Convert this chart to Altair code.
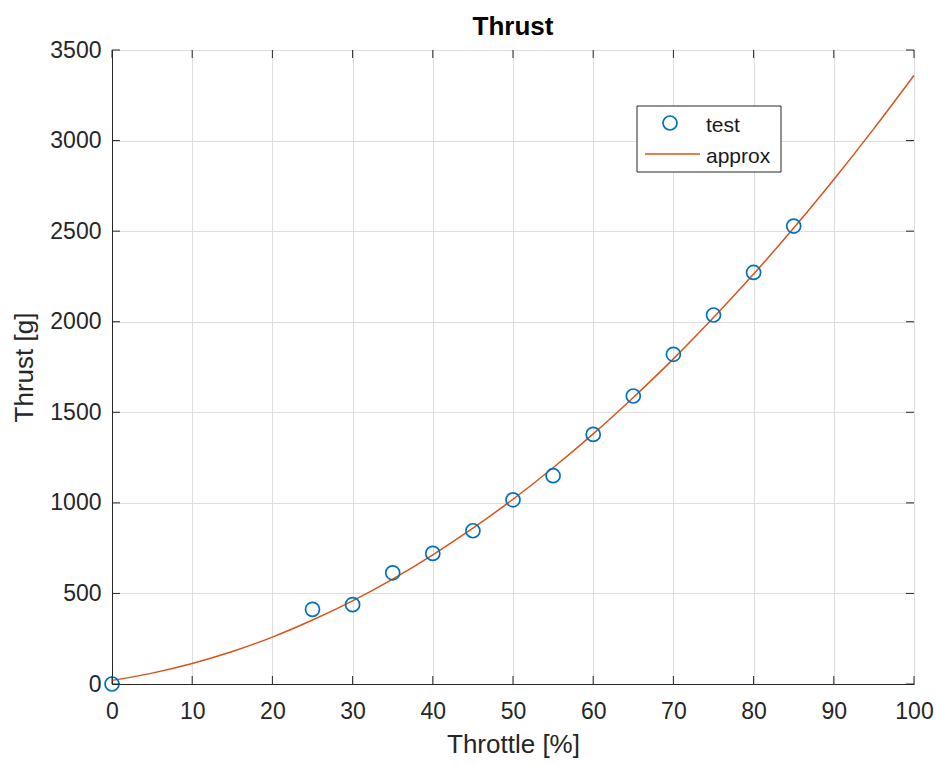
import altair as alt
import pandas as pd

# Measured thrust at each throttle setting
throttle_test = [0, 25, 30, 35, 40, 45, 50, 55, 60, 65, 70, 75, 80, 85]
thrust_test = [0, 412, 438, 614, 721, 846, 1017, 1150, 1378, 1590, 1820, 2037, 2272, 2528]

# Fitted approximation curve, sampled every 5 %
throttle_fit = [0, 5, 10, 15, 20, 25, 30, 35, 40, 45, 50, 55, 60, 65, 70, 75, 80, 85, 90, 95, 100]
thrust_fit = [20, 60, 113, 179, 259, 353, 459, 579, 713, 860, 1020, 1194, 1381, 1582,
              1795, 2023, 2263, 2517, 2785, 3066, 3360]

x_ticks = [0, 10, 20, 30, 40, 50, 60, 70, 80, 90, 100]
y_ticks = [0, 500, 1000, 1500, 2000, 2500, 3000, 3500]

W, H = 802, 634
BLUE = "#0072BD"
ORANGE = "#D95319"
INK = "#262626"
FONT = "Liberation Sans"

test_df = pd.DataFrame({"throttle": throttle_test, "thrust": thrust_test})
fit_df = pd.DataFrame({"throttle": throttle_fit, "thrust": thrust_fit})
xt_df = pd.DataFrame({"throttle": x_ticks})
yt_df = pd.DataFrame({"thrust": y_ticks})

xscale = alt.Scale(domain=[0, 100], nice=False, zero=False)
yscale = alt.Scale(domain=[0, 3500], nice=False)

x_axis = alt.Axis(values=x_ticks, title="Throttle [%]", ticks=False, grid=True, format="d",
                  labelPadding=16, titlePadding=8)
y_axis = alt.Axis(values=y_ticks, title="Thrust [g]", ticks=False, grid=True, format="d",
                  labelPadding=11, titlePadding=12)

line = alt.Chart(fit_df).mark_line(color=ORANGE, strokeWidth=1.5, interpolate="monotone").encode(
    x=alt.X("throttle:Q", scale=xscale, axis=x_axis),
    y=alt.Y("thrust:Q", scale=yscale, axis=y_axis),
)

points = alt.Chart(test_df).mark_point(
    shape="circle", filled=False, color=BLUE, size=196, strokeWidth=1.7, opacity=1
).encode(
    x=alt.X("throttle:Q", scale=xscale),
    y=alt.Y("thrust:Q", scale=yscale),
)

# Inward tick marks on all four sides of the box
tick_len = 8
bottom_ticks = alt.Chart(xt_df).mark_rule(color=INK, strokeWidth=1).encode(
    x=alt.X("throttle:Q", scale=xscale), y=alt.value(H), y2=alt.value(H - tick_len))
top_ticks = alt.Chart(xt_df).mark_rule(color=INK, strokeWidth=1).encode(
    x=alt.X("throttle:Q", scale=xscale), y=alt.value(0), y2=alt.value(tick_len))
left_ticks = alt.Chart(yt_df).mark_rule(color=INK, strokeWidth=1).encode(
    y=alt.Y("thrust:Q", scale=yscale), x=alt.value(0), x2=alt.value(tick_len))
right_ticks = alt.Chart(yt_df).mark_rule(color=INK, strokeWidth=1).encode(
    y=alt.Y("thrust:Q", scale=yscale), x=alt.value(W), x2=alt.value(W - tick_len))

# Legend box in the upper right of the axes
lg_df = pd.DataFrame({"label": ["test"]})
lx0, lx1, ly0, ly1 = 525, 669, 56, 122
legend_box = alt.Chart(lg_df).mark_rect(fill="white", stroke=INK, strokeWidth=1).encode(
    x=alt.value(lx0), x2=alt.value(lx1), y=alt.value(ly0), y2=alt.value(ly1))
legend_circle = alt.Chart(lg_df).mark_point(
    shape="circle", filled=False, color=BLUE, size=196, strokeWidth=1.7, opacity=1
).encode(x=alt.value(558), y=alt.value(73))
legend_line = alt.Chart(lg_df).mark_rule(color=ORANGE, strokeWidth=1.5).encode(
    x=alt.value(533), x2=alt.value(588), y=alt.value(104))
legend_text1 = alt.Chart(lg_df).mark_text(
    text="test", align="left", baseline="middle", font=FONT, fontSize=21, color="#1a1a1a"
).encode(x=alt.value(594), y=alt.value(76))
legend_text2 = alt.Chart(lg_df).mark_text(
    text="approx", align="left", baseline="middle", font=FONT, fontSize=21, color="#1a1a1a"
).encode(x=alt.value(594), y=alt.value(107))

chart = alt.layer(
    line, points, bottom_ticks, top_ticks, left_ticks, right_ticks,
    legend_box, legend_circle, legend_line, legend_text1, legend_text2,
).properties(
    width=W,
    height=H,
    title=alt.TitleParams("Thrust", fontSize=26, fontWeight="bold", font=FONT,
                          color="black", anchor="middle", offset=-1),
    autosize=alt.AutoSizeParams(type="none"),
    padding={"left": 112, "top": 50, "right": 22, "bottom": 81},
    background="white",
).configure_view(
    stroke=INK, strokeWidth=1,
).configure_axis(
    labelFont=FONT, titleFont=FONT, labelFontSize=23, titleFontSize=26,
    labelColor=INK, titleColor=INK, titleFontWeight="normal",
    domainColor=INK, domainWidth=1,
    gridColor="#dedede", gridWidth=1, labelFlush=False,
)

chart.save("out.html", embed_options={"renderer": "svg", "actions": False})
